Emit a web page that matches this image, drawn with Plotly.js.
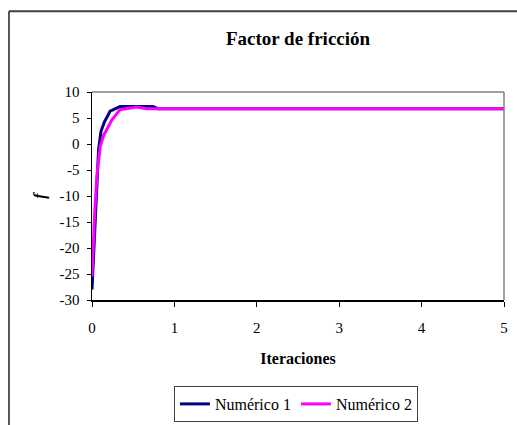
<!DOCTYPE html>
<html>
<head>
<meta charset="utf-8">
<script src="https://cdn.plot.ly/plotly-3.0.1.min.js"></script>
<style>
  html, body { margin: 0; padding: 0; background: #fff; }
  #chart { width: 517px; height: 425px; }
</style>
</head>
<body>
<div id="chart"></div>
<script>
// Iteration axis and the two numeric solutions for the friction factor
const iterNum1 = [0, 0.025, 0.05, 0.08, 0.11, 0.15, 0.22, 0.28, 0.34, 0.5, 0.74, 0.8, 1, 2, 3, 4, 5];
const fNum1    = [-28, -18.5, -9, -1, 2.5, 4.2, 6.3, 6.8, 7.2, 7.2, 7.2, 6.8, 6.8, 6.8, 6.8, 6.8, 6.8];

const iterNum2 = [0, 0.03, 0.06, 0.08, 0.1, 0.14, 0.19, 0.24, 0.34, 0.54, 0.66, 1, 2, 3, 4, 5];
const fNum2    = [-25.5, -14, -6, -3, -0.5, 1.6, 3, 4.6, 6.6, 7.1, 6.8, 6.8, 6.8, 6.8, 6.8, 6.8];

const seriesNames = ['Numérico 1', 'Numérico 2'];
const titleText = 'Factor de fricción';
const xTitle = 'Iteraciones';
const yTitle = 'f';

// axis ticks (labels written with a plain hyphen for negatives)
const xTickVals = [0, 1, 2, 3, 4, 5];
const xTickText = ['0', '1', '2', '3', '4', '5'];
const yTickVals = [10, 5, 0, -5, -10, -15, -20, -25, -30];
const yTickText = ['10', '5', '0', '-5', '-10', '-15', '-20', '-25', '-30'];

const serif = 'Liberation Serif, Times New Roman, serif';

const traces = [
  { x: iterNum1, y: fNum1, name: seriesNames[0], mode: 'lines',
    line: { color: '#000080', width: 3 } },
  { x: iterNum2, y: fNum2, name: seriesNames[1], mode: 'lines',
    line: { color: '#FF00FF', width: 3 } }
];

const layout = {
  width: 517, height: 425,
  margin: { l: 92, r: 13, t: 91.5, b: 125 },
  paper_bgcolor: '#fff', plot_bgcolor: '#fff',
  font: { family: serif, size: 15, color: '#000' },
  showlegend: true,
  title: { text: '<b>' + titleText + '</b>', font: { family: serif, size: 19, color: '#000' },
           x: 0.5, xanchor: 'center', xref: 'paper', y: 1 - 38 / 425, yanchor: 'middle' },
  xaxis: {
    range: [0, 5], tickmode: 'array', tickvals: xTickVals, ticktext: xTickText,
    showgrid: false, zeroline: false,
    showline: true, linecolor: '#000', linewidth: 1.5,
    ticks: 'outside', ticklen: 5, tickcolor: '#000', tickwidth: 1,
    ticklabelstandoff: 8,
    tickfont: { family: serif, size: 15, color: '#000' },
    title: { text: '<b>' + xTitle + '</b>', font: { family: serif, size: 16, color: '#000' }, standoff: 18 }
  },
  yaxis: {
    range: [-30, 10], tickmode: 'array', tickvals: yTickVals, ticktext: yTickText,
    showgrid: false, zeroline: false,
    showline: true, linecolor: '#000', linewidth: 1.5,
    ticks: 'outside', ticklen: 4, tickcolor: '#000', tickwidth: 1,
    ticklabelstandoff: 4,
    tickfont: { family: serif, size: 15, color: '#000' },
    title: { text: '<b><i>' + yTitle + '</i></b>', font: { family: serif, size: 16, color: '#000' }, standoff: 10 }
  },
  legend: {
    orientation: 'h', xref: 'paper', x: 0.495, xanchor: 'center',
    yref: 'container', y: 1 - 386 / 425, yanchor: 'top',
    bordercolor: '#404040', borderwidth: 1, bgcolor: '#fff',
    font: { family: serif, size: 16, color: '#000' },
    itemwidth: 30, tracegroupgap: 0
  },
  shapes: [
    // gray top and right edges of the plot area
    { type: 'line', xref: 'paper', yref: 'paper', x0: 0, x1: 1, y0: 1, y1: 1,
      line: { color: '#808080', width: 1.5 } },
    { type: 'line', xref: 'paper', yref: 'paper', x0: 1, x1: 1, y0: 0, y1: 1,
      line: { color: '#808080', width: 1.5 } },
    // outer chart frame
    { type: 'line', xref: 'paper', yref: 'paper', x0: -0.2015, x1: 1.2, y0: 1.3885, y1: 1.3885,
      line: { color: '#404040', width: 2 } },
    { type: 'line', xref: 'paper', yref: 'paper', x0: -0.2015, x1: -0.2015, y0: -0.7, y1: 1.3885,
      line: { color: '#202020', width: 1.5 } }
  ]
};

Plotly.newPlot('chart', traces, layout, { staticPlot: true, displayModeBar: false });
</script>
</body>
</html>
